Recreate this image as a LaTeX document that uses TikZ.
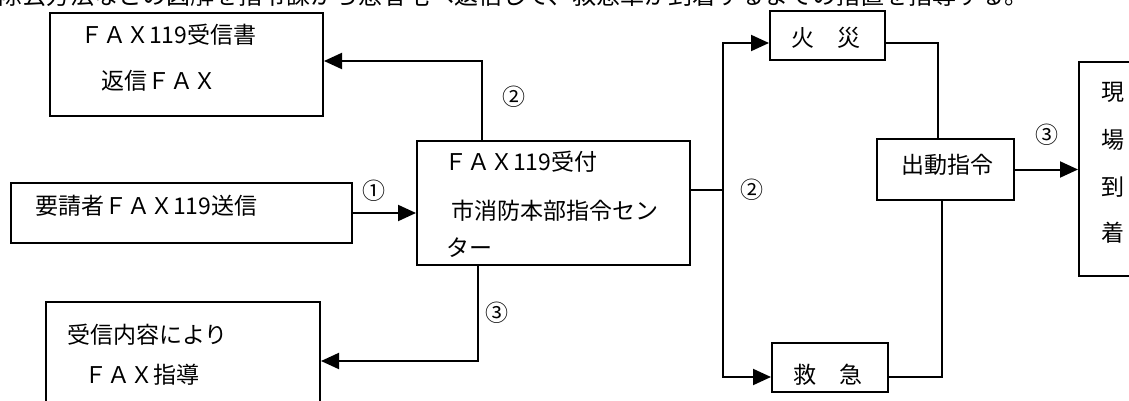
\documentclass[tikz,border=0pt]{standalone}
\usepackage{fontspec}
\setmainfont{Noto Sans CJK JP}
\usetikzlibrary{arrows.meta}
\begin{document}
\begin{tikzpicture}[x=1pt,y=-1pt,
  boxsty/.style={draw, line width=2pt, inner sep=0pt, rectangle},
  arr/.style={-{Triangle[length=18pt,width=16pt]}, line width=2pt},
  ln/.style={line width=2pt},
  txt/.style={inner sep=0pt, anchor=base west, font=\fontsize{23}{28}\selectfont},
  ctxt/.style={inner sep=0pt, anchor=center, font=\fontsize{23}{28}\selectfont}]
\useasboundingbox (0,0) rectangle (1129,401);
% top (cut) line of text
\node[txt, font=\fontsize{24}{28}\selectfont] (top) at (-2,5) {除去方法などの図解を指令課から患者宅へ返信して、救急車が到着するまでの措置を指導する。};
% boxes
\node[boxsty, minimum width=273pt, minimum height=103pt] (A) at (186.5,64.5) {};
\node[boxsty, minimum width=341pt, minimum height=60pt] (B) at (181.5,213) {};
\node[boxsty, minimum width=273pt, minimum height=124pt] (M) at (553.5,203) {};
\node[boxsty, minimum width=274pt, minimum height=118pt] (C) at (183,361) {};
\node[boxsty, minimum width=115pt, minimum height=49pt] (F) at (827.5,35.5) {};
\node[boxsty, minimum width=116pt, minimum height=49pt] (Q) at (830,367.5) {};
\node[boxsty, minimum width=137pt, minimum height=61pt] (D) at (945.5,169.5) {};
\node[boxsty, minimum width=66pt, minimum height=214pt] (G) at (1112,169) {};
% texts
\node[txt] (a1) at (80,43.5) {ＦＡＸ119受信書};
\node[txt] (a2) at (101,89.5) {返信ＦＡＸ};
\node[txt] (b1) at (35,214.5) {要請者ＦＡＸ119送信};
\node[txt] (m1) at (444,170.5) {ＦＡＸ119受付};
\node[txt] (m2) at (451,219.5) {市消防本部指令セン};
\node[txt] (m3) at (446,256.5) {ター};
\node[txt] (c1) at (67,343.5) {受信内容により};
\node[txt] (c2) at (84,383.5) {ＦＡＸ指導};
\node[ctxt] (f1) at (826,38) {火　災};
\node[ctxt] (q1) at (828,375) {救　急};
\node[ctxt] (d1) at (947,165) {出動指令};
\node[ctxt] (g1) at (1113,92) {現};
\node[ctxt] (g2) at (1113,140) {場};
\node[ctxt] (g3) at (1113,187) {到};
\node[ctxt] (g4) at (1113,233) {着};
% labels
\node[ctxt] (l1) at (374,191) {①};
\node[ctxt] (l2) at (514,97) {②};
\node[ctxt] (l3) at (497,313) {③};
\node[ctxt] (l4) at (752,190) {②};
\node[ctxt] (l5) at (1047,135) {③};
% connectors
\draw[arr] ([xshift=66pt]M.north west) |- ([yshift=3.5pt]A.east);
\draw[arr] (B.east) -- (B.east -| M.west);
\draw[arr] ([xshift=62pt]M.south west) |- (C.east);
\coordinate (J) at (723,190);
\draw[ln] ([yshift=13pt]M.east) -- (J);
\draw[arr] (J) |- ([yshift=-7.5pt]F.west);
\draw[arr] (J) |- ([yshift=-9.5pt]Q.west);
\draw[ln] ([yshift=-7.5pt]F.east) -| ([xshift=-7.5pt]D.north);
\draw[ln] ([yshift=-9.5pt]Q.east) -| ([xshift=-3.5pt]D.south);
\draw[arr] (D.east) -- (D.east -| G.west);
\end{tikzpicture}
\end{document}
